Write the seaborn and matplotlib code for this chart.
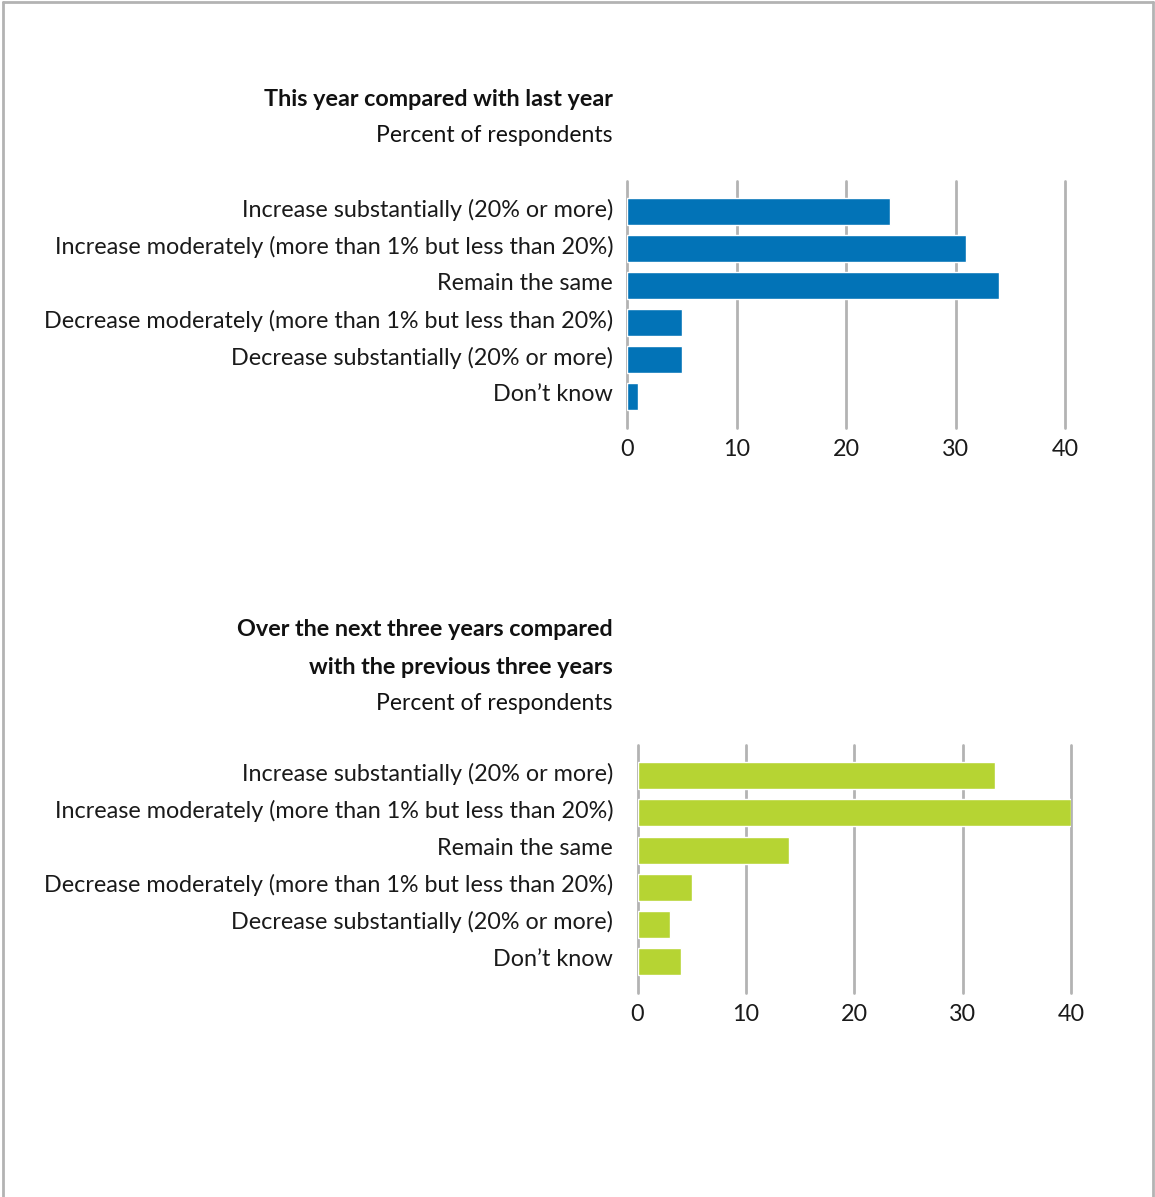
import numpy as np
import pandas as pd
import matplotlib
matplotlib.use("Agg")
import matplotlib.pyplot as plt
import matplotlib.transforms as mtransforms
import seaborn as sns
from matplotlib.lines import Line2D

categories = [
    "Increase substantially (20% or more)",
    "Increase moderately (more than 1% but less than 20%)",
    "Remain the same",
    "Decrease moderately (more than 1% but less than 20%)",
    "Decrease substantially (20% or more)",
    "Don\u2019t know",
]
this_year = [24, 31, 34, 5, 5, 1]
next_three = [33, 40, 14, 5, 3, 4]
x_ticks = [0, 10, 20, 30, 40]

BLUE = "#0273b7"
GREEN = "#b6d433"
GRID = "#b3b3b3"
W, H = 1155, 1197

sns.set_style("white")
plt.rcParams["font.family"] = ["Lato", "DejaVu Sans"]


def px(x, y):
    return x / W, 1 - y / H


def add_axes(left, right, top, bottom):
    x0, y0 = px(left, bottom)
    x1, y1 = px(right, top)
    return fig.add_axes([x0, y0, x1 - x0, y1 - y0])


def draw_panel(ax, values, color, pad):
    df = pd.DataFrame({"Response": categories, "Percent": values})
    sns.barplot(data=df, x="Percent", y="Response", orient="h", color=color,
                width=0.73, saturation=1, ax=ax, zorder=3)
    ax.set_xlim(0, 40)
    ax.set_ylim(5.85, -0.83)
    ax.set_xticks(x_ticks)
    ax.set_xlabel("")
    ax.set_ylabel("")
    for t in x_ticks:
        ax.axvline(t, color=GRID, lw=2, zorder=1, clip_on=False)
    for s in ax.spines.values():
        s.set_visible(False)
    ax.tick_params(axis="both", length=0, labelsize=16.8, colors="#1a1a1a")
    ax.tick_params(axis="y", pad=pad)
    ax.tick_params(axis="x", pad=8)
    # labels sit a little above the bar centres in the original
    up = mtransforms.ScaledTranslation(0, 4 / 100, fig.dpi_scale_trans)
    for lab in ax.get_yticklabels():
        lab.set_transform(lab.get_transform() + up)


fig = plt.figure(figsize=(W / 100, H / 100), dpi=100)

# light grey frame around the page
frame = dict(color="#b3b3b3", lw=2, transform=fig.transFigure)
fig.add_artist(Line2D([3 / W, 3 / W], [0, 1 - 2 / H], **frame))
fig.add_artist(Line2D([3 / W, 1153 / W], [1 - 2 / H, 1 - 2 / H], **frame))
fig.add_artist(Line2D([1153 / W, 1153 / W], [0, 1 - 2 / H], **frame))

ax1 = add_axes(627, 1065, 181, 428)
draw_panel(ax1, this_year, BLUE, 10)

ax2 = add_axes(637.5, 1071, 745, 993)
draw_panel(ax2, next_three, GREEN, 17.5)

title_kw = dict(ha="right", va="center", color="#111111")
fig.text(*px(613, 99), "This year compared with last year", fontweight="bold", fontsize=16.8, **title_kw)
fig.text(*px(613, 135), "Percent of respondents", fontsize=16.5, **title_kw)
fig.text(*px(613, 630), "Over the next three years compared", fontweight="bold", fontsize=16.8, **title_kw)
fig.text(*px(613, 667), "with the previous three years", fontweight="bold", fontsize=16.8, **title_kw)
fig.text(*px(613, 703), "Percent of respondents", fontsize=16.5, **title_kw)

fig.savefig("out.png", dpi=100)
